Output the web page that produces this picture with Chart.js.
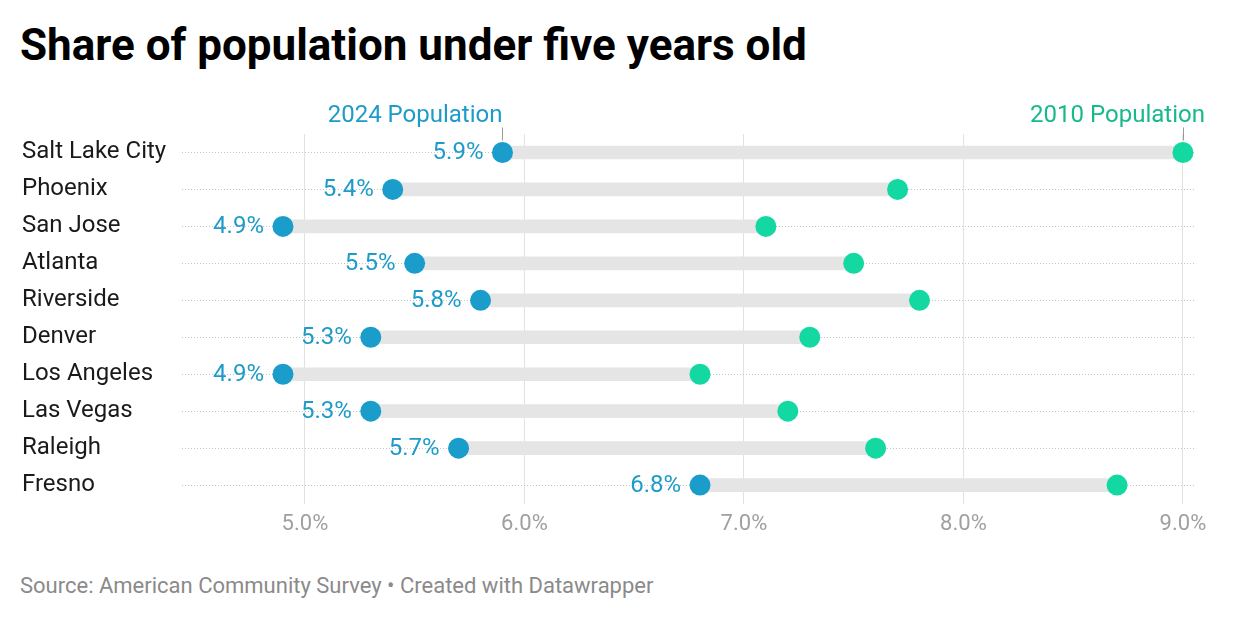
<!DOCTYPE html>
<html><head><meta charset="utf-8">
<script src="https://cdn.jsdelivr.net/npm/chart.js@4.4.1/dist/chart.umd.min.js"></script>
<style>
html,body{margin:0;padding:0;background:#fff;width:1240px;height:620px;overflow:hidden;font-family:Roboto,sans-serif;}
#title{position:absolute;left:20px;top:23px;font-size:44px;line-height:1;font-weight:700;color:#000;}
#footer{position:absolute;left:20px;top:573px;font-size:22px;line-height:26px;color:#8a8a8a;}
#wrap{position:absolute;left:0;top:100px;width:1240px;height:446px;}
</style></head><body>
<div id="title">Share of population under five years old</div>
<div id="wrap"><canvas id="c"></canvas></div>
<div id="footer">Source: American Community Survey • Created with Datawrapper</div>
<script>
const cities = ["Salt Lake City","Phoenix","San Jose","Atlanta","Riverside","Denver","Los Angeles","Las Vegas","Raleigh","Fresno"];
const pop2024 = [5.9,5.4,4.9,5.5,5.8,5.3,4.9,5.3,5.7,6.8];
const pop2010 = [9.0,7.7,7.1,7.5,7.8,7.3,6.8,7.2,7.6,8.7];
const xTicks = [5,6,7,8,9];

const BLUE = '#1b9dcb', GREEN = '#14d8a2', BLUE_T = '#1e9bc9', GREEN_T = '#17b98b';

const labelsPlugin = {
  id:'lbls',
  afterDatasetsDraw(chart){
    const ctx = chart.ctx, xs = chart.scales.x, ys = chart.scales.y;
    ctx.save();
    ctx.font = '24px Roboto';
    ctx.textBaseline = 'middle';
    ctx.fillStyle = BLUE_T;
    ctx.textAlign = 'right';
    pop2024.forEach((v,i)=>{
      const x = xs.getPixelForValue(v), y = ys.getPixelForValue(i);
      ctx.fillText(v.toFixed(1)+'%', x-19, y+1);
    });
    const y0 = ys.getPixelForValue(0);
    const xb = xs.getPixelForValue(pop2024[0]);
    const xg = xs.getPixelForValue(pop2010[0]);
    ctx.strokeStyle = '#9a9a9a'; ctx.lineWidth = 1;
    ctx.beginPath();
    ctx.moveTo(Math.round(xb)+0.5, y0-25); ctx.lineTo(Math.round(xb)+0.5, y0-12);
    ctx.moveTo(Math.round(xg)+0.5, y0-25); ctx.lineTo(Math.round(xg)+0.5, y0-12);
    ctx.stroke();
    ctx.textBaseline = 'alphabetic';
    ctx.fillStyle = BLUE_T; ctx.textAlign='right';
    ctx.fillText('2024 Population', xb, y0-30);
    ctx.fillStyle = GREEN_T; ctx.textAlign='right';
    ctx.fillText('2010 Population', Math.min(xg+22, chart.width-35), y0-30);
    ctx.restore();
  }
};

new Chart(document.getElementById('c'), {
  type:'bar',
  data:{
    labels: cities,
    datasets:[
      {type:'line', label:'2024', data: pop2024, indexAxis:'y', showLine:false,
       pointRadius:10.5, pointHoverRadius:10.5, pointBackgroundColor:BLUE, pointBorderWidth:0, order:0},
      {type:'line', label:'2010', data: pop2010, indexAxis:'y', showLine:false,
       pointRadius:10.5, pointHoverRadius:10.5, pointBackgroundColor:GREEN, pointBorderWidth:0, order:0},
      {type:'bar', label:'range', data: cities.map((c,i)=>[pop2024[i], pop2010[i]]),
       backgroundColor:'#e5e5e5', barThickness:13, order:1}
    ]
  },
  options:{
    indexAxis:'y',
    responsive:true, maintainAspectRatio:false, animation:false,
    layout:{padding:{left:22, right:45, top:34, bottom:0}},
    plugins:{legend:{display:false}, tooltip:{enabled:false}},
    scales:{
      x:{
        type:'linear', min:4.44, max:9.055,
        afterBuildTicks(s){ s.ticks = xTicks.map(v=>({value:v})); },
        grid:{color:'#e2e2e2', lineWidth:1, drawTicks:false},
        border:{display:false},
        ticks:{padding:8, color:'#a0a0a0', font:{family:'Roboto', size:22},
               callback:(v)=>Number(v).toFixed(1)+'%'}
      },
      y:{
        type:'category',
        afterFit(s){ s.width = 160; },
        grid:{offset:false, color:'#c4c4c4', lineWidth:1, drawTicks:false},
        border:{display:false, dash:[1,2]},
        ticks:{crossAlign:'far', padding:0, color:'#1a1a1a', font:{family:'Roboto', size:24}}
      }
    }
  },
  plugins:[labelsPlugin]
});
</script>
</body></html>
